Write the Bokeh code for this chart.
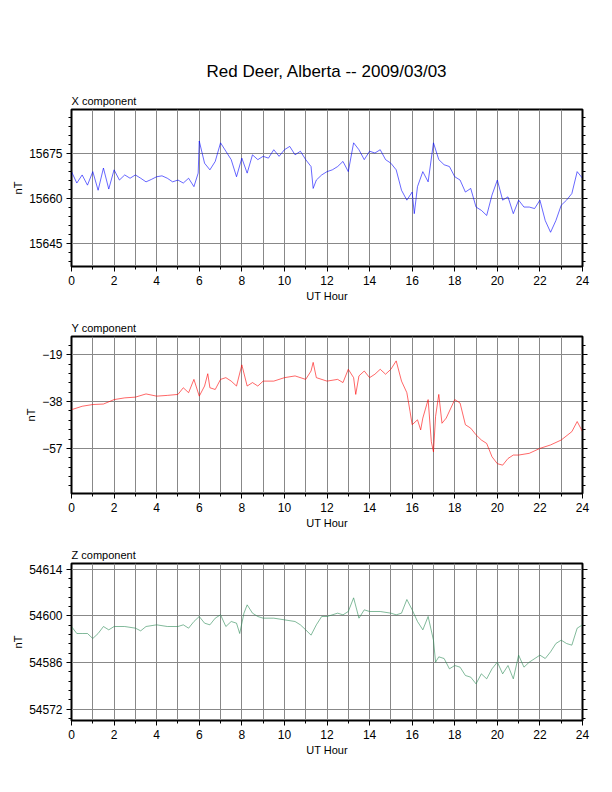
from bokeh.plotting import figure
from bokeh.layouts import column
from bokeh.models import FixedTicker, LinearAxis, Range1d, Title
from bokeh.embed import file_html
from bokeh.resources import INLINE

hours_x = [0,0.25,0.5,0.75,1,1.25,1.5,1.75,2,2.25,2.5,2.75,3,3.25,3.5,3.75,4,4.25,4.5,4.75,5,5.25,5.5,5.75,5.95,6,6.25,6.5,6.75,7,7.25,7.5,7.75,8,8.25,8.5,8.75,9,9.25,9.5,9.75,10,10.25,10.5,10.75,11,11.25,11.35,11.5,11.75,12,12.25,12.5,12.75,13,13.25,13.5,13.75,14,14.25,14.5,14.75,15,15.25,15.5,15.75,16,16.1,16.25,16.5,16.75,17,17.25,17.5,17.75,18,18.25,18.5,18.75,19,19.25,19.5,19.75,20,20.25,20.5,20.75,21,21.25,21.5,21.75,22,22.25,22.5,22.75,23,23.25,23.5,23.75,24]
x_nt = [15668.8,15665,15667.7,15664.3,15668.8,15662.6,15670,15663,15669.4,15666,15667.7,15666.6,15667.7,15666.6,15665.4,15666.2,15667.1,15667.4,15666.6,15665.4,15666,15665,15666.6,15663.8,15668.3,15679,15671.6,15669.4,15672.2,15678.4,15675.6,15672.8,15667.1,15673.3,15668.3,15674.4,15672.8,15673.9,15673.3,15676.1,15673.9,15676.1,15677.2,15674.4,15675.6,15672.8,15670.5,15663.2,15666,15667.7,15668.8,15669.4,15670.5,15672.2,15668.8,15678.4,15676.1,15672.8,15675.6,15675,15676.1,15672.8,15671.6,15669.4,15662.6,15659.3,15662,15654.8,15663.8,15668.8,15665.4,15678.4,15672.8,15671.1,15670.5,15667.1,15666,15662,15663.2,15657,15655.9,15654.2,15661,15666,15659.3,15660.4,15654.8,15659.3,15657,15657,15656.5,15659.3,15652.5,15648.6,15652.5,15657.6,15659.3,15661.5,15668.8,15666.6]

hours_y = [0,0.5,1,1.5,2,2.5,3,3.5,4,4.5,5,5.25,5.5,5.75,6,6.25,6.4,6.5,6.75,7,7.25,7.5,7.75,8,8.25,8.5,8.75,9,9.5,10,10.5,11,11.25,11.35,11.5,12,12.5,12.75,13,13.25,13.35,13.5,13.75,14,14.25,14.5,14.75,15,15.25,15.5,15.75,15.9,16,16.25,16.4,16.5,16.75,16.9,17,17.1,17.25,17.4,17.6,18,18.25,18.5,18.75,19,19.25,19.5,19.75,20,20.25,20.5,20.75,21,21.5,22,22.5,23,23.5,23.75,24]
y_nt = [-41.3,-39.9,-39.2,-39,-37.2,-36.5,-36.2,-34.9,-35.8,-35.5,-35.1,-32.4,-34.4,-29,-35.8,-31.7,-26.7,-32.4,-33.1,-29,-28.3,-29.7,-31.7,-23.1,-31.7,-30.3,-31.7,-29.7,-29.7,-28.3,-27.6,-29,-25.6,-22.1,-28.3,-29.7,-29,-30.3,-24.9,-28.3,-35.1,-27.6,-25.6,-28.3,-26.9,-24.9,-26.9,-24.9,-21.5,-29.7,-34.4,-42,-47.4,-45.4,-49.5,-44.7,-37.2,-54.3,-58.4,-44,-35.1,-46.8,-44.7,-37.2,-38.6,-47.4,-48.8,-51.5,-53.6,-55,-60.4,-63.2,-63.8,-61.1,-59.7,-59.7,-59,-57,-55.6,-53.6,-50.2,-46.1,-50.2]

hours_z = [0,0.25,0.5,0.75,1,1.25,1.5,1.75,2,2.5,3,3.25,3.5,4,4.5,5,5.25,5.5,5.75,6,6.25,6.5,6.75,7,7.25,7.5,7.75,7.9,8.1,8.25,8.5,8.75,9,9.5,10,10.5,10.75,11,11.25,11.5,11.75,12,12.5,12.75,13,13.25,13.5,13.75,14,14.5,15,15.25,15.5,15.75,16,16.25,16.5,16.75,17,17.1,17.25,17.5,17.75,18,18.25,18.5,18.75,19,19.25,19.5,19.75,20,20.25,20.5,20.75,21,21.25,21.5,22,22.25,22.5,22.75,23,23.25,23.5,23.75,24]
z_nt = [54596.8,54594.7,54594.7,54594.7,54593.2,54594.7,54596.8,54595.8,54596.8,54596.8,54596.3,54595.5,54596.8,54597.3,54596.8,54596.8,54597.3,54596.3,54598.3,54599.8,54597.8,54597.3,54599.3,54600.3,54596.8,54598.3,54597.8,54594.7,54600.8,54603.3,54600.8,54599.8,54599.3,54599.3,54598.8,54598.3,54597.3,54595.8,54594.2,54597.3,54599.8,54599.8,54600.8,54600.3,54601.3,54605.4,54599.3,54601.8,54601.3,54601.3,54600.8,54600.3,54600.8,54604.9,54601.8,54598.3,54595.8,54599.8,54592.7,54586.1,54587.7,54587.2,54584.1,54585.1,54584.6,54582.1,54581.6,54579.6,54582.6,54581.1,54584.1,54586.1,54582.6,54585.1,54581.1,54588.2,54584.6,54586.1,54588.2,54587.2,54589.2,54591.7,54592.7,54591.7,54591.2,54596.3,54597.3]

x_ticks = [0, 2, 4, 6, 8, 10, 12, 14, 16, 18, 20, 22, 24]
FONT = "Liberation Sans"


def panel(hours, vals, color, name, yr, yticks, ystep, top, main=None):
    p = figure(frame_width=511, frame_height=157, output_backend="svg",
               toolbar_location=None, x_range=Range1d(0, 24), y_range=Range1d(*yr),
               min_border_left=71, min_border_right=14, min_border_top=top,
               min_border_bottom=35)
    p.line(hours, vals, color=color, line_width=0.6)
    p.add_layout(Title(text=name, text_font=FONT, text_font_size="11px",
                       text_color="black", text_font_style="normal",
                       align="left", offset=0, standoff=5), "above")
    if main:
        p.add_layout(Title(text=main, text_font=FONT, text_font_size="17px",
                           text_color="black", text_font_style="normal",
                           align="center", standoff=19), "above")
    p.outline_line_color = "black"
    p.outline_line_width = 2
    minors_y = []
    v = yticks[0] - 5 * ystep
    while v <= yr[1]:
        if v >= yr[0]:
            minors_y.append(round(v, 3))
        v += ystep
    p.xaxis.ticker = FixedTicker(ticks=x_ticks, minor_ticks=list(range(25)))
    p.xgrid.ticker = FixedTicker(ticks=list(range(25)))
    p.yaxis.ticker = FixedTicker(ticks=yticks, minor_ticks=minors_y)
    p.xaxis.axis_label = "UT Hour"
    p.yaxis.axis_label = "nT"
    ra = LinearAxis(ticker=FixedTicker(ticks=yticks, minor_ticks=minors_y))
    p.add_layout(ra, "right")
    for ax in [p.xaxis[0], p.yaxis[0], ra]:
        ax.axis_label_text_font = FONT
        ax.axis_label_text_font_size = "11px"
        ax.axis_label_text_font_style = "normal"
        ax.axis_label_text_color = "black"
        ax.axis_label_standoff = 2
        ax.major_label_text_font = FONT
        ax.major_label_text_font_size = "12px"
        ax.major_label_text_color = "black"
        ax.major_label_standoff = 4
        ax.major_tick_out = 5
        ax.major_tick_in = 0
        ax.minor_tick_out = 3
        ax.minor_tick_in = 0
        ax.axis_line_color = "black"
        ax.major_tick_line_color = "black"
        ax.minor_tick_line_color = "black"
    ra.major_label_text_font_size = "1px"
    ra.major_label_text_color = None
    for g in [p.xgrid[0], p.ygrid[0]]:
        g.grid_line_color = "#888888"
        g.grid_line_width = 1
        g.grid_line_alpha = 1
    return p


p1 = panel(hours_x, x_nt, "blue", "X component", (15637.2, 15689.5),
           [15645, 15660, 15675], 3, 109, main="Red Deer, Alberta -- 2009/03/03")
p2 = panel(hours_y, y_nt, "red", "Y component", (-75.3, -11.6),
           [-57, -38, -19], 19 / 5, 32)
p3 = panel(hours_z, z_nt, "#2e8b57", "Z component", (54568.6, 54615.7),
           [54572, 54586, 54600, 54614], 14 / 5, 32)

p = column(p1, p2, p3, spacing=0)
open("out.html", "w").write(file_html(p, INLINE))
